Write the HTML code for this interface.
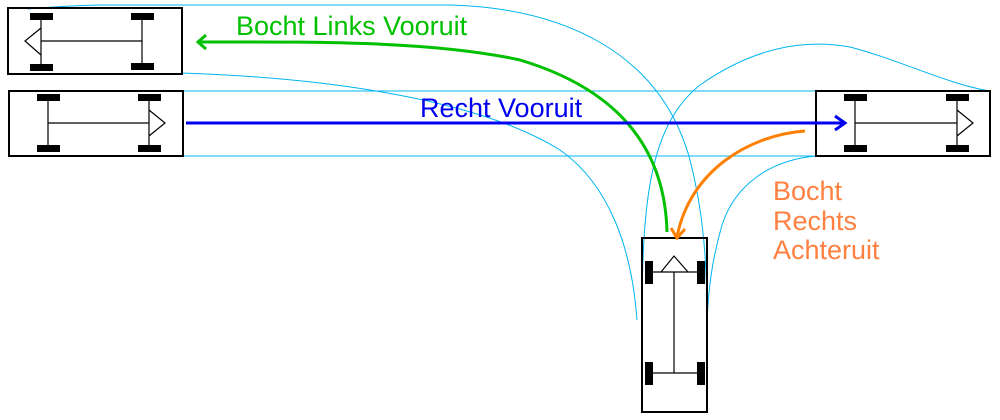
<!DOCTYPE html>
<html><head><meta charset="utf-8"><style>
html,body{margin:0;padding:0;background:#fff;width:1000px;height:420px;overflow:hidden}
svg{display:block}
text{font-family:"Liberation Sans",sans-serif;font-size:27px}
</style></head><body>
<svg width="1000" height="420" viewBox="0 0 1000 420" xmlns="http://www.w3.org/2000/svg">
<g fill="none" stroke="#00b4f0" stroke-width="1">
<path d="M28 9 Q60 6 100 5 L450 5 C560 8 660 50 690 160 C703 210 707 260 707 320"/>
<path d="M182 73 C330 78 480 100 560 150 C610 185 632 250 637 320"/>
<path d="M990 91 C950 85 900 60 850 47 C800 38 750 50 700 85 C650 125 642 200 642 320"/>
<path d="M816 156 C770 160 735 185 722 225 C712 260 708 290 707 325"/>
<line x1="183" y1="91" x2="816" y2="91"/>
<line x1="183" y1="156" x2="816" y2="156"/>
</g>
<g fill="none" stroke="#000" stroke-width="2">
<rect x="8" y="8" width="174" height="66"/>
<rect x="9" y="91" width="174" height="65"/>
<rect x="816" y="91" width="174" height="65"/>
<rect x="642" y="238" width="65" height="174"/>
</g>
<g stroke="#000" stroke-width="1.2" fill="none">
<line x1="41" y1="16" x2="41" y2="67"/><line x1="142" y1="16" x2="142" y2="67"/><line x1="41" y1="41" x2="142" y2="41"/>
<polyline points="41,28 25,41 41,55"/>
<line x1="48" y1="97" x2="48" y2="149"/><line x1="149" y1="97" x2="149" y2="149"/><line x1="48" y1="123" x2="149" y2="123"/>
<polyline points="149,110 165,123 149,136"/>
<line x1="855" y1="97" x2="855" y2="149"/><line x1="957" y1="97" x2="957" y2="149"/><line x1="855" y1="123" x2="957" y2="123"/>
<polyline points="957,110 973,123 957,136"/>
<line x1="649" y1="272" x2="700" y2="272"/><line x1="649" y1="373" x2="700" y2="373"/><line x1="674" y1="272" x2="674" y2="373"/>
<polyline points="661,272 674,256 688,272"/>
</g>
<g fill="#000">
<rect x="30" y="13" width="23" height="7"/><rect x="131" y="13" width="23" height="7"/>
<rect x="30" y="64" width="23" height="7"/><rect x="131" y="63" width="23" height="7"/>
<rect x="37" y="94" width="23" height="7"/><rect x="138" y="94" width="23" height="7"/>
<rect x="37" y="145" width="23" height="7"/><rect x="138" y="145" width="23" height="7"/>
<rect x="844" y="94" width="23" height="7"/><rect x="946" y="94" width="23" height="7"/>
<rect x="844" y="145" width="23" height="7"/><rect x="946" y="145" width="23" height="7"/>
<rect x="645" y="261" width="8" height="23"/><rect x="697" y="261" width="8" height="23"/>
<rect x="645" y="362" width="8" height="23"/><rect x="697" y="362" width="8" height="23"/>
</g>
<g fill="none" stroke-width="3">
<path d="M667 232 C665 150 620 90 520 60 C430 40 300 42 198 42" stroke="#00c000"/>
<polyline points="206,35 198,42 206,49" stroke="#00c000"/>
<line x1="186" y1="123" x2="845" y2="123" stroke="#0000f0"/>
<polyline points="835,116 845,123 835,130" stroke="#0000f0"/>
<path d="M805 131 C750 135 690 170 677 237" stroke="#ff8000"/>
<polyline points="671,228 677,238 685,229" stroke="#ff8000"/>
</g>
<text x="236" y="35" fill="#00c000">Bocht Links Vooruit</text>
<text x="420" y="117" fill="#0000f0">Recht Vooruit</text>
<text x="773" y="200" fill="#ff8040">Bocht</text>
<text x="773" y="230" fill="#ff8040">Rechts</text>
<text x="773" y="259" fill="#ff8040">Achteruit</text>
</svg>
</body></html>
